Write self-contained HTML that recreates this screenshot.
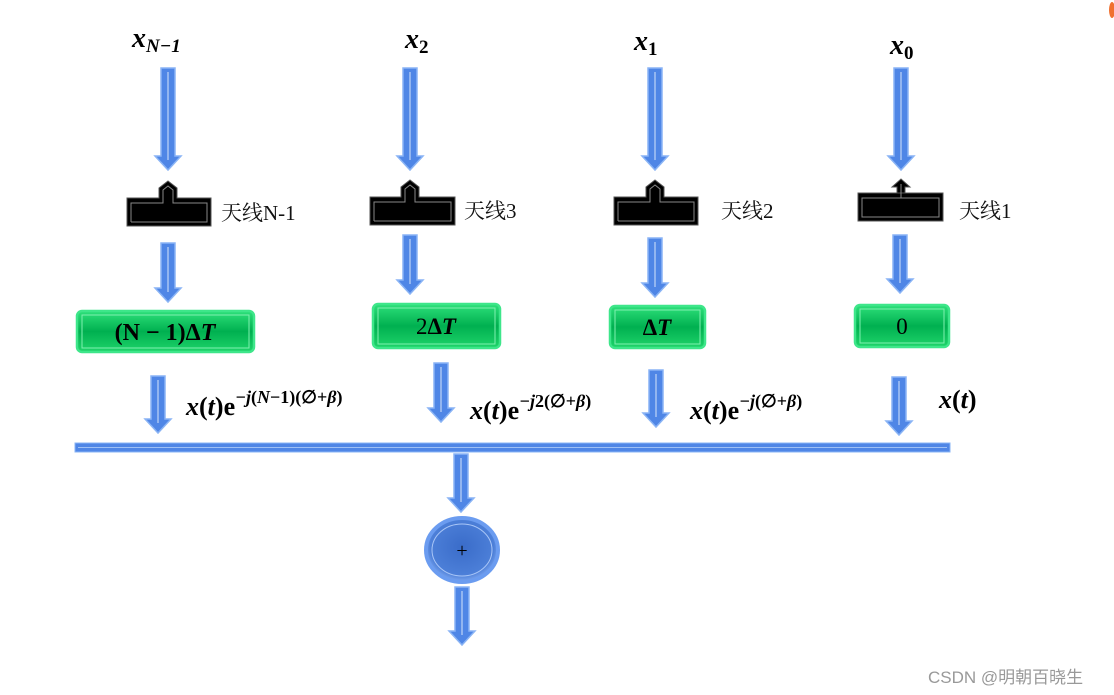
<!DOCTYPE html>
<html><head><meta charset="utf-8"><style>
html,body{margin:0;padding:0;background:#fff;}
svg{display:block;}
.m{font-family:"Liberation Serif","DejaVu Serif",serif;font-weight:bold;font-style:italic;fill:#000;}
.z{font-family:"Liberation Serif","Noto Serif CJK SC",serif;fill:#111;font-size:21px;}
.arr{fill:#4f86e6;stroke:#8ab4f5;stroke-width:1.5;}
</style></head><body>
<svg width="1114" height="695" viewBox="0 0 1114 695" xmlns="http://www.w3.org/2000/svg">
<defs>
<linearGradient id="g" x1="0" y1="0" x2="0" y2="1"><stop offset="0" stop-color="#2ee07a"/><stop offset="0.5" stop-color="#00b050"/><stop offset="1" stop-color="#1fd46a"/></linearGradient>
<radialGradient id="c" cx="0.5" cy="0.45" r="0.55"><stop offset="0" stop-color="#3a6cc9"/><stop offset="0.8" stop-color="#4c7fd8"/><stop offset="1" stop-color="#7fa8f0"/></radialGradient>
</defs>
<!-- top labels -->
<text class="m" x="132" y="47" font-size="28">x<tspan font-size="19" dy="5">N−1</tspan></text>
<text class="m" x="405" y="48" font-size="28">x<tspan font-size="19" dy="5" font-style="normal">2</tspan></text>
<text class="m" x="634" y="50" font-size="28">x<tspan font-size="19" dy="5" font-style="normal">1</tspan></text>
<text class="m" x="890" y="54" font-size="28">x<tspan font-size="19" dy="5" font-style="normal">0</tspan></text>

<!-- arrows -->
<g class="arr">
<polygon points="161,68 175,68 175,156 181,156 168,170 155,156 161,156"/>
<polygon points="403,68 417,68 417,156 423,156 410,170 397,156 403,156"/>
<polygon points="648,68 662,68 662,156 668,156 655,170 642,156 648,156"/>
<polygon points="894,68 908,68 908,156 914,156 901,170 888,156 894,156"/>
<polygon points="161,243 175,243 175,288 181,288 168,302 155,288 161,288"/>
<polygon points="403,235 417,235 417,280 423,280 410,294 397,280 403,280"/>
<polygon points="648,238 662,238 662,283 668,283 655,297 642,283 648,283"/>
<polygon points="893,235 907,235 907,279 913,279 900,293 887,279 893,279"/>
<polygon points="151,376 165,376 165,419 171,419 158,433 145,419 151,419"/>
<polygon points="434,363 448,363 448,408 454,408 441,422 428,408 434,408"/>
<polygon points="649,370 663,370 663,413 669,413 656,427 643,413 649,413"/>
<polygon points="892,377 906,377 906,421 912,421 899,435 886,421 892,421"/>
<polygon points="454,454 468,454 468,498 474,498 461,512 448,498 454,498"/>
<polygon points="455,587 469,587 469,631 475,631 462,645 449,631 455,631"/>
</g>
<g stroke="#d6e4fb" stroke-width="1" fill="none">
<line x1="168" y1="72" x2="168" y2="160"/><line x1="410" y1="72" x2="410" y2="160"/><line x1="655" y1="72" x2="655" y2="160"/><line x1="901" y1="72" x2="901" y2="160"/>
<line x1="168" y1="247" x2="168" y2="292"/><line x1="410" y1="239" x2="410" y2="284"/><line x1="655" y1="242" x2="655" y2="287"/><line x1="900" y1="239" x2="900" y2="283"/>
<line x1="158" y1="380" x2="158" y2="423"/><line x1="441" y1="367" x2="441" y2="412"/><line x1="656" y1="374" x2="656" y2="417"/><line x1="899" y1="381" x2="899" y2="425"/>
<line x1="461" y1="458" x2="461" y2="502"/><line x1="462" y1="591" x2="462" y2="635"/>
</g>

<!-- antennas -->
<g fill="#000" stroke="#555" stroke-width="1">
<polygon points="127,198 159,198 159,188 168,181 177,188 177,198 211,198 211,226 127,226"/>
<polygon points="370,197 401,197 401,187 410,180 419,187 419,197 455,197 455,225 370,225"/>
<polygon points="614,197 646,197 646,187 655,180 664,187 664,197 698,197 698,225 614,225"/>
<rect x="858" y="193" width="85" height="28"/>
<polygon points="897,193 897,187 892,187 901,179 910,187 905,187 905,193"/>
</g>
<g fill="none" stroke="#888" stroke-width="1">
<polyline points="131,222 131,203 163,203 163,190 168,186 173,190 173,203 207,203 207,222 131,222"/>
<polyline points="374,221 374,202 405,202 405,189 410,185 415,189 415,202 451,202 451,221 374,221"/>
<polyline points="618,221 618,202 650,202 650,189 655,185 660,189 660,202 694,202 694,221 618,221"/>
<rect x="862" y="198" width="77" height="19"/>
<line x1="901" y1="184" x2="901" y2="198"/>
</g>
<text class="z" x="221" y="220">天线N-1</text>
<text class="z" x="464" y="218">天线3</text>
<text class="z" x="721" y="218">天线2</text>
<text class="z" x="959" y="218">天线1</text>

<!-- green boxes -->
<g fill="url(#g)" stroke="#3ee68a" stroke-width="2.5">
<rect x="77" y="311" width="177" height="41" rx="5"/>
<rect x="373" y="304" width="127" height="44" rx="5"/>
<rect x="610" y="306" width="95" height="42" rx="5"/>
<rect x="855" y="305" width="94" height="42" rx="5"/>
</g>
<g fill="none" stroke="#7ff0b0" stroke-width="1">
<rect x="82" y="315" width="167" height="33"/><rect x="378" y="308" width="117" height="36"/><rect x="615" y="310" width="85" height="34"/><rect x="860" y="309" width="84" height="34"/>
</g>
<text x="165" y="340" text-anchor="middle" font-family="Liberation Serif,serif" font-weight="bold" font-size="24">(N − 1)Δ<tspan font-style="italic">T</tspan></text>
<text x="436" y="334" text-anchor="middle" font-family="Liberation Serif,serif" font-size="23">2<tspan font-weight="bold">Δ<tspan font-style="italic">T</tspan></tspan></text>
<text x="657" y="335" text-anchor="middle" font-family="Liberation Serif,serif" font-weight="bold" font-size="23">Δ<tspan font-style="italic">T</tspan></text>
<text x="902" y="334" text-anchor="middle" font-family="Liberation Serif,serif" font-size="23">0</text>

<!-- formulas -->
<g font-family="Liberation Serif,serif" font-weight="bold" font-size="26">
<text x="186" y="415"><tspan font-style="italic">x</tspan>(<tspan font-style="italic">t</tspan>)e<tspan font-size="18" dy="-12"><tspan font-style="italic">−j</tspan>(<tspan font-style="italic">N</tspan>−1)(∅+<tspan font-style="italic">β</tspan>)</tspan></text>
<text x="470" y="419"><tspan font-style="italic">x</tspan>(<tspan font-style="italic">t</tspan>)e<tspan font-size="18" dy="-12"><tspan font-style="italic">−j</tspan>2(∅+<tspan font-style="italic">β</tspan>)</tspan></text>
<text x="690" y="419"><tspan font-style="italic">x</tspan>(<tspan font-style="italic">t</tspan>)e<tspan font-size="18" dy="-12"><tspan font-style="italic">−j</tspan>(∅+<tspan font-style="italic">β</tspan>)</tspan></text>
<text x="939" y="408"><tspan font-style="italic">x</tspan>(<tspan font-style="italic">t</tspan>)</text>
</g>

<!-- bus -->
<rect x="75" y="443" width="875" height="9" fill="#4f86e6" stroke="#8ab4f5" stroke-width="1"/>
<line x1="78" y1="447.5" x2="947" y2="447.5" stroke="#9ec0f5" stroke-width="1"/>

<!-- sum circle -->
<ellipse cx="462" cy="550" rx="36" ry="32" fill="url(#c)" stroke="#6b9cf0" stroke-width="4"/>
<ellipse cx="462" cy="550" rx="30" ry="26" fill="none" stroke="#a9c6f7" stroke-width="1"/>
<text x="462" y="557" text-anchor="middle" font-family="Liberation Serif,serif" font-size="20">+</text>

<text x="928" y="683" font-family="Liberation Sans,Noto Sans CJK SC,sans-serif" font-size="17" fill="#999">CSDN @明朝百晓生</text>
<ellipse cx="1112" cy="10" rx="3" ry="8" fill="#f07030"/>
</svg>
</body></html>
